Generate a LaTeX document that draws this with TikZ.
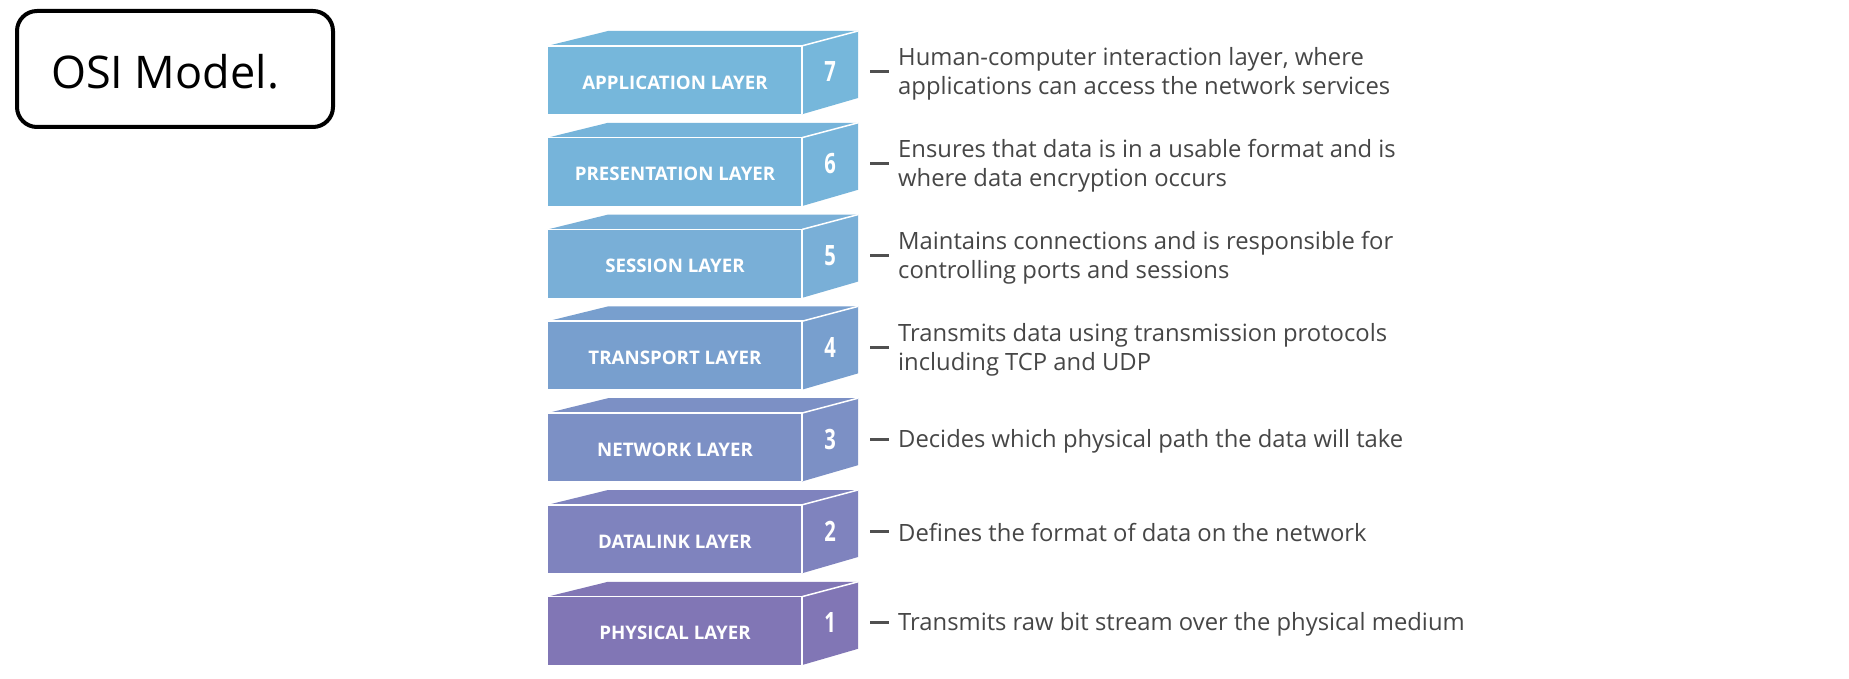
\documentclass[tikz,border=0pt]{standalone}
\usepackage{fontspec}
\setmainfont{Open Sans}
\usetikzlibrary{calc}

\definecolor{c7}{RGB}{118,183,219}
\definecolor{c6}{RGB}{118,180,218}
\definecolor{c5}{RGB}{121,175,215}
\definecolor{c4}{RGB}{120,159,206}
\definecolor{c3}{RGB}{124,144,197}
\definecolor{c2}{RGB}{127,131,190}
\definecolor{c1}{RGB}{129,118,181}
\definecolor{desctext}{RGB}{70,70,70}
\definecolor{dashgray}{RGB}{80,80,80}

\tikzset{
  frontface/.style={rectangle, minimum width=254pt, minimum height=68pt, inner sep=0pt},
  boxedge/.style={white, line width=1.5pt},
  layerlabel/.style={text=white, inner sep=0pt, font=\fontsize{18.7}{22}\selectfont\bfseries},
  layernum/.style={text=white, inner sep=0pt, font=\fontsize{28}{30}\selectfont\bfseries},
  layerdesc/.style={text=desctext, anchor=west, align=left, inner sep=0pt,
    font=\fontsize{23.8}{29}\selectfont},
  dashmark/.style={dashgray, line width=3pt},
}

% one layer of the stack: #1 number, #2 row from top, #3 colour, #4 name, #5 description
\newcommand{\layerrow}[5]{%
  \pgfmathsetmacro\yt{46+#2*91.8}
  \node[frontface, fill=#3] (f#1) at (675,\yt+34) {};
  \fill[#3] (f#1.north west) -- (608,\yt-15) -- (858,\yt-15) -- (f#1.north east) -- cycle;
  \fill[#3] (f#1.north east) -- (858,\yt-15) -- (858,\yt+52) -- (f#1.south east) -- cycle;
  \draw[boxedge] (f#1.north west) -- (f#1.north east) -- (f#1.south east);
  \draw[boxedge] (f#1.north east) -- (858,\yt-15);
  \node[layerlabel] (l#1) at ([yshift=-2.5pt]f#1.center) {#4};
  \node[layernum] (n#1) at (830,\yt+26) {\scalebox{0.72}[1]{#1}};
  \node[layerdesc] (d#1) at (898,\yt+28) {#5};
  \draw[dashmark] ([xshift=40pt]n#1.center) -- ([xshift=59pt]n#1.center);
}

\begin{document}
\begin{tikzpicture}[x=1pt, y=-1pt]
\useasboundingbox[fill=white] (0,0) rectangle (1849,679);

% title box
\node[draw=black, line width=4pt, rounded corners=20pt, minimum width=316pt,
      minimum height=116pt, inner sep=0pt] (titlebox) at (175,69) {};
\node[inner sep=0pt, font=\fontsize{45}{50}\selectfont] (title) at (165,72) {OSI Model.};

% the seven layers
\layerrow{7}{0}{c7}{APPLICATION LAYER}{Human-computer interaction layer, where\\applications can access the network services}
\layerrow{6}{1}{c6}{PRESENTATION LAYER}{Ensures that data is in a usable format and is\\where data encryption occurs}
\layerrow{5}{2}{c5}{SESSION LAYER}{Maintains connections and is responsible for\\controlling ports and sessions}
\layerrow{4}{3}{c4}{TRANSPORT LAYER}{Transmits data using transmission protocols\\including TCP and UDP}
\layerrow{3}{4}{c3}{NETWORK LAYER}{Decides which physical path the data will take}
\layerrow{2}{5}{c2}{DATALINK LAYER}{Defines the format of data on the network}
\layerrow{1}{6}{c1}{PHYSICAL LAYER}{Transmits raw bit stream over the physical medium}
\end{tikzpicture}
\end{document}
